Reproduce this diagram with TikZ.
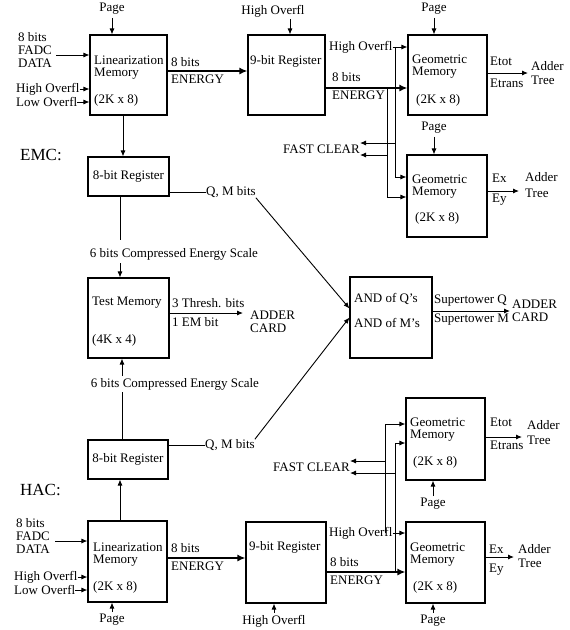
\documentclass[tikz,border=0pt]{standalone}
\usepackage{fontspec}
\setmainfont{Liberation Serif}
\usetikzlibrary{arrows.meta}
\newcommand\fsn{\fontsize{13}{15}\selectfont}
\begin{document}
\begin{tikzpicture}[x=1pt,y=-1pt,
 box/.style={draw,line width=1.1pt,inner sep=0pt},
 t/.style={font=\fsn,inner sep=0pt,anchor=west},
 tc/.style={font=\fsn,inner sep=0pt},
 big/.style={font=\fontsize{17}{19}\selectfont,inner sep=0pt,anchor=west},
 arr/.style={line width=0.9pt,-{Latex[length=6pt,width=5pt]}},
 tharr/.style={line width=2.2pt,-{Latex[length=8pt,width=7pt]}},
 ln/.style={line width=0.9pt}]
\useasboundingbox (0,0) rectangle (570,630);

% ================= EMC =================
\node[box,minimum width=77pt,minimum height=80pt] (lm1) at (128.5,75) {};
\node[t] (lm1a) at (94,60) {Linearization};
\node[t] (lm1b) at (94,74) {Memory};
\node[t] (lm1c) at (94,100) {(2K x 8)};
\node[tc] (pg1) at (112,9) {Page};
\draw[arr,shorten <=3pt] (pg1.south) -- (pg1.south |- lm1.north);
\node[t] (in1a) at (18,37) {8 bits};
\node[t] (in1b) at (18,50) {FADC};
\node[t] (in1c) at (18,63) {DATA};
\coordinate (in1s) at (56,55);
\draw[arr] (in1s) -- (in1s -| lm1.west);
\node[t] (ho1) at (16,89) {High Overfl};
\node[t] (lo1) at (16,102) {Low Overfl};
\draw[arr] (ho1.east) -- (ho1.east -| lm1.west);
\draw[arr] (lo1.east) -- (lo1.east -| lm1.west);

\node[t] (e1a) at (171,62) {8 bits};
\node[t] (e1b) at (171,79) {ENERGY};
\node[box,minimum width=77pt,minimum height=80pt] (r9a) at (286.5,75) {};
\node[t] (r9at) at (250,61) {9-bit Register};
\draw[tharr] ([yshift=4pt]lm1.east) coordinate (e1s) -- (e1s -| r9a.west);
\node[tc] (ho2) at (273,11) {High Overfl};
\coordinate (ho2s) at (290,19);
\draw[arr] (ho2s) -- (ho2s |- r9a.north);

\node[box,minimum width=79pt,minimum height=80pt] (gm1) at (447.5,75) {};
\node[t] (ho3) at (329,47) {High Overfl};
\draw[arr] (ho3.east) -- (ho3.east -| gm1.west);
\node[t] (e2a) at (332,77) {8 bits};
\node[t] (e2b) at (332,95) {ENERGY};
\draw[tharr] ([yshift=-13pt]r9a.east) coordinate (e2s) -- (e2s -| gm1.west);
\node[t] (gm1a) at (412,59) {Geometric};
\node[t] (gm1b) at (412,73) {Memory};
\node[t] (gm1c) at (416,100) {(2K x 8)};
\node[tc] (pg2) at (434,9) {Page};
\draw[arr,shorten <=3pt] (pg2.south) -- (pg2.south |- gm1.north);
\coordinate (o1e) at (528,73);
\draw[arr] (o1e -| gm1.east) -- (o1e);
\node[t] (o1a) at (490,61) {Etot};
\node[t] (o1b) at (490,83) {Etrans};
\node[t] (o1c) at (531,66) {Adder};
\node[t] (o1d) at (531,80) {Tree};

\node[box,minimum width=80pt,minimum height=82pt] (gm2) at (447,196) {};
\coordinate (b1t) at (395,47); \coordinate (b1b) at (395,177);
\draw[arr] (b1t) -- (b1b) -- (b1b -| gm2.west);
\coordinate (b2t) at (387,88); \coordinate (b2b) at (387,197);
\draw[arr] (b2t) -- (b2b) -- (b2b -| gm2.west);
\node[tc,anchor=east] (fc1) at (360,149) {FAST CLEAR};
\coordinate (fc1a) at (395,143); \coordinate (fc1b) at (387,155);
\draw[arr] (fc1a) -- (fc1a -| fc1.east);
\draw[arr] (fc1b) -- (fc1b -| fc1.east);
\node[t] (gm2a) at (412,179) {Geometric};
\node[t] (gm2b) at (412,193) {Memory};
\node[t] (gm2c) at (415,218) {(2K x 8)};
\node[tc] (pg3) at (434,128) {Page};
\draw[arr,shorten <=3pt] (pg3.south) -- (pg3.south |- gm2.north);
\coordinate (o2e) at (519,191);
\draw[arr] (o2e -| gm2.east) -- (o2e);
\node[t] (o2a) at (492,178) {Ex};
\node[t] (o2b) at (492,200) {Ey};
\node[t] (o2c) at (525,177) {Adder};
\node[t] (o2d) at (525,193) {Tree};

\node[big] (emc) at (20,155) {EMC:};

\node[box,minimum width=81pt,minimum height=39pt,font=\fsn] (r8a) at (128.5,176.5) {8-bit Register};
\coordinate (d1) at (123,0);
\draw[arr] (lm1.south -| d1) -- (r8a.north -| d1);

\node[box,minimum width=82pt,minimum height=81pt] (andb) at (391,317.5) {};
\node[t] (qm1) at (206,192) {Q, M bits};
\draw[ln] (r8a.east |- qm1.west) -- (qm1.west);
\draw[arr] (qm1.south east) -- ([yshift=9pt]andb.west);

\node[box,minimum width=81pt,minimum height=80pt] (tm) at (128.5,318) {};
\coordinate (c1) at (120,240);
\draw[ln] (r8a.south -| c1) -- (c1);
\node[tc] (ces1) at (174,254) {6 bits Compressed Energy Scale};
\coordinate (c2) at (120,263);
\draw[arr] (c2) -- (c2 |- tm.north);
\node[t] (tma) at (92,303) {Test Memory};
\node[t] (tmb) at (92,340) {(4K x 4)};
\node[t] (o3a) at (172,303) {3 Thresh. bits};
\node[t] (o3b) at (172,322) {1 EM bit};
\coordinate (o3e) at (243,313);
\draw[arr] (o3e -| tm.east) -- (o3e);
\node[t] (o3c) at (250,315) {ADDER};
\node[t] (o3d) at (250,328) {CARD};

\node[t] (anda) at (354,299) {AND of Q's};
\node[t] (andc) at (354,323) {AND of M's};
\node[t] (o4a) at (434,301) {Supertower Q};
\node[t] (o4b) at (434,320) {Supertower M};
\coordinate (o4e) at (510,311);
\draw[arr] (o4e -| andb.east) -- (o4e);
\node[t] (o4c) at (512,304) {ADDER};
\node[t] (o4d) at (512,317) {CARD};

% ================= HAC =================
\node[box,minimum width=80pt,minimum height=39pt,font=\fsn] (r8b) at (128,459.5) {8-bit Register};
\node[tc] (ces2) at (175,384) {6 bits Compressed Energy Scale};
\coordinate (c3) at (122,376);
\draw[arr] (c3) -- (c3 |- tm.south);
\coordinate (c4) at (122,392);
\draw[ln] (r8b.north -| c4) -- (c4);
\node[t] (qm2) at (205,445) {Q, M bits};
\draw[ln] (r8b.east |- qm2.west) -- (qm2.west);
\draw[arr] (qm2.north east) -- (andb.west);

\node[big] (hac) at (20,490) {HAC:};

\node[box,minimum width=79pt,minimum height=81pt] (lm2) at (127.5,561.5) {};
\coordinate (d2) at (120,0);
\draw[arr] (lm2.north -| d2) -- (r8b.south -| d2);
\node[t] (lm2a) at (93,547) {Linearization};
\node[t] (lm2b) at (93,561) {Memory};
\node[t] (lm2c) at (93,587) {(2K x 8)};
\node[t] (in2a) at (16,523) {8 bits};
\node[t] (in2b) at (16,536) {FADC};
\node[t] (in2c) at (16,549) {DATA};
\coordinate (in2s) at (55,541);
\draw[arr] (in2s) -- (in2s -| lm2.west);
\node[t] (ho4) at (14,577) {High Overfl};
\node[t] (lo4) at (14,590) {Low Overfl};
\draw[arr] (ho4.east) -- (ho4.east -| lm2.west);
\draw[arr] (lo4.east) -- (lo4.east -| lm2.west);
\node[tc] (pg5) at (112,620) {Page};
\draw[arr,shorten <=2pt] (pg5.north) -- (pg5.north |- lm2.south);

\node[t] (e3a) at (171,548) {8 bits};
\node[t] (e3b) at (171,566) {ENERGY};
\node[box,minimum width=80pt,minimum height=81pt] (r9b) at (286,562.5) {};
\node[t] (r9bt) at (249,547) {9-bit Register};
\draw[tharr] ([yshift=3.5pt]lm2.east) coordinate (e3s) -- (e3s -| r9b.west);
\node[tc] (ho5) at (274,621) {High Overfl};
\draw[arr,shorten <=2pt] (ho5.north) -- (ho5.north |- r9b.south);

\node[box,minimum width=79pt,minimum height=81pt] (gm4) at (445.5,562.5) {};
\node[t] (ho6) at (329,533) {High Overfl};
\draw[arr] (ho6.east) -- (ho6.east -| gm4.west);
\node[t] (e4a) at (330,562) {8 bits};
\node[t] (e4b) at (330,580) {ENERGY};
\draw[tharr] ([yshift=-9.5pt]r9b.east) coordinate (e4s) -- (e4s -| gm4.west);
\node[t] (gm4a) at (410,547) {Geometric};
\node[t] (gm4b) at (410,561) {Memory};
\node[t] (gm4c) at (413,587) {(2K x 8)};
\node[tc] (pg6) at (433,621) {Page};
\draw[arr,shorten <=2pt] (pg6.north) -- (pg6.north |- gm4.south);
\coordinate (o6e) at (514,557);
\draw[arr] (o6e -| gm4.east) -- (o6e);
\node[t] (o6a) at (489,549) {Ex};
\node[t] (o6b) at (489,570) {Ey};
\node[t] (o6c) at (518,549) {Adder};
\node[t] (o6d) at (518,563) {Tree};

\node[box,minimum width=79pt,minimum height=82pt] (gm3) at (445.5,439) {};
\coordinate (b3b) at (385,533); \coordinate (b3t) at (385,424);
\draw[arr] (b3b) -- (b3t) -- (b3t -| gm3.west);
\coordinate (b4b) at (395,572); \coordinate (b4t) at (395,443);
\draw[arr] (b4b) -- (b4t) -- (b4t -| gm3.west);
\node[tc,anchor=east] (fc2) at (350,467) {FAST CLEAR};
\coordinate (fc2a) at (385,461); \coordinate (fc2b) at (395,473);
\draw[arr] (fc2a) -- (fc2a -| fc2.east);
\draw[arr] (fc2b) -- (fc2b -| fc2.east);
\node[t] (gm3a) at (410,422) {Geometric};
\node[t] (gm3b) at (410,436) {Memory};
\node[t] (gm3c) at (413,462) {(2K x 8)};
\node[tc] (pg7) at (433,504) {Page};
\draw[arr,shorten <=2pt] (pg7.north) -- (pg7.north |- gm3.south);
\coordinate (o5e) at (522,437);
\draw[arr] (o5e -| gm3.east) -- (o5e);
\node[t] (o5a) at (490,422) {Etot};
\node[t] (o5b) at (490,445) {Etrans};
\node[t] (o5c) at (527,425) {Adder};
\node[t] (o5d) at (527,440) {Tree};
\end{tikzpicture}
\end{document}
